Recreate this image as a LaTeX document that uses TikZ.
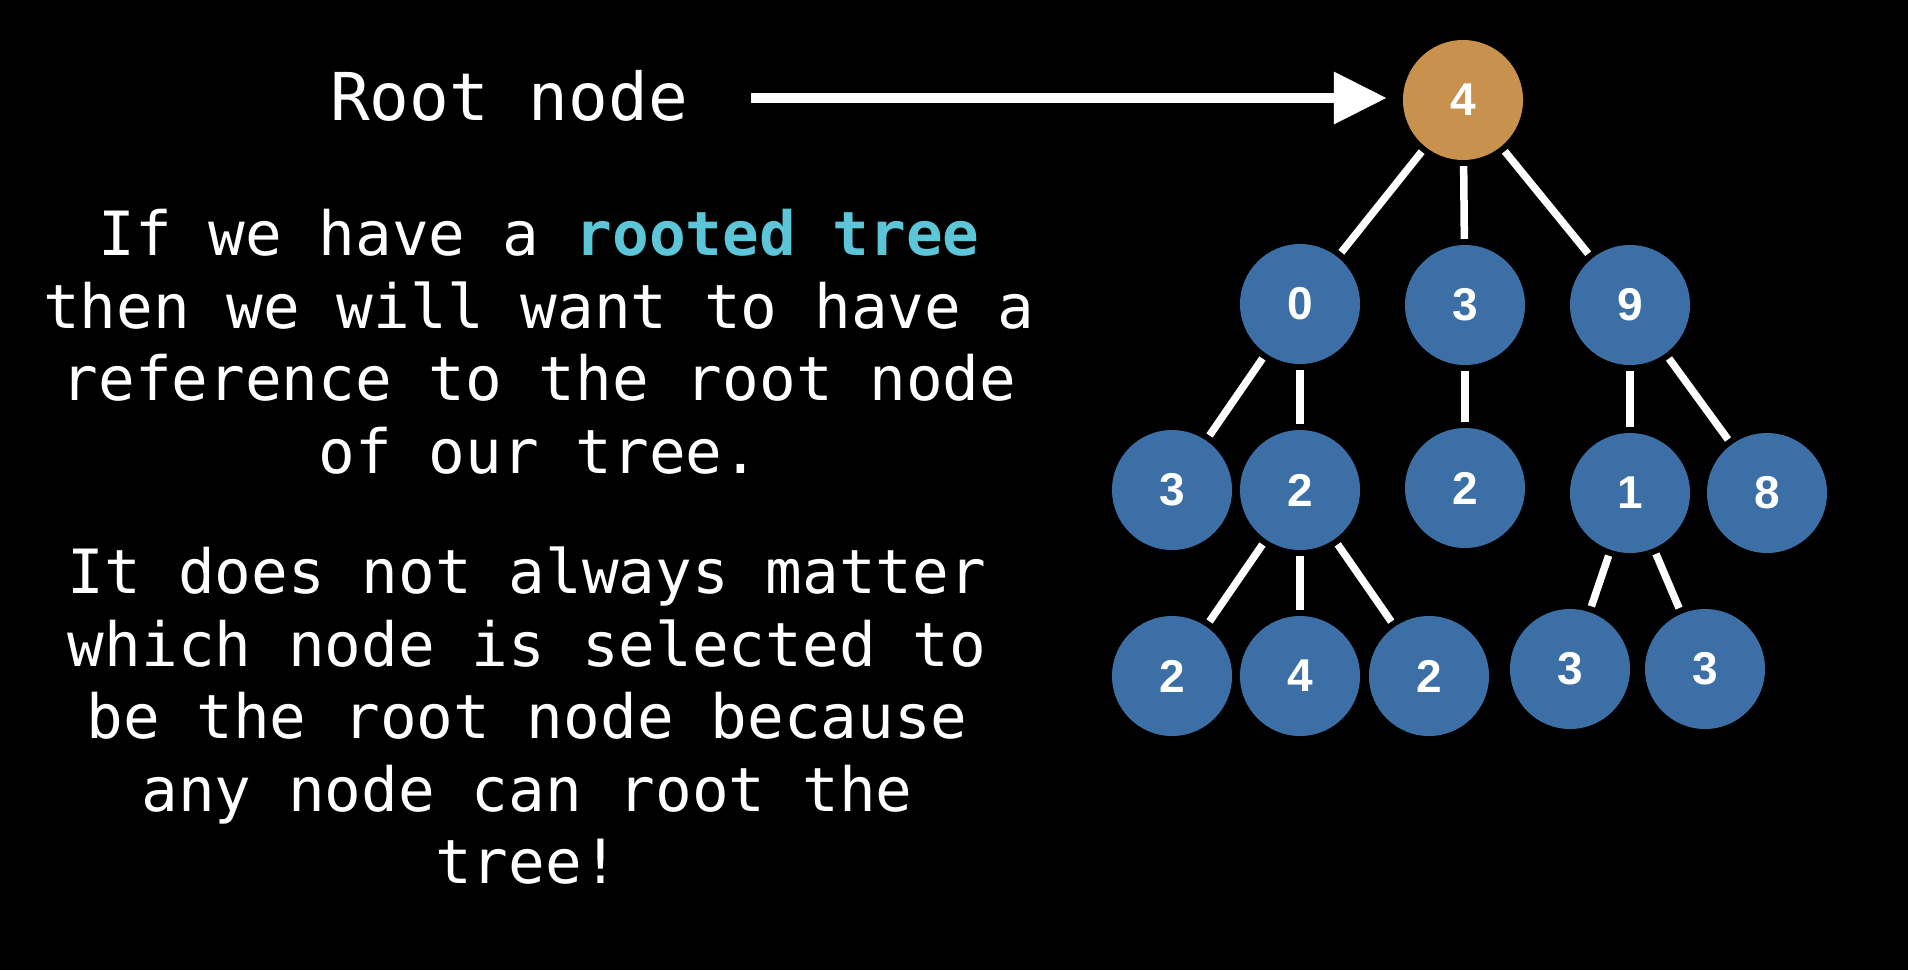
\documentclass[tikz,border=0pt]{standalone}
\usepackage{fontspec}
\setmonofont{DejaVu Sans Mono}
\newfontfamily\labelfont{Liberation Sans}
\usetikzlibrary{arrows.meta}
\definecolor{nodeblue}{HTML}{3B6FA6}
\definecolor{rootorange}{HTML}{C8914E}
\definecolor{cyanhl}{HTML}{5CC6D8}
\begin{document}
\begin{tikzpicture}[x=1pt,y=-1pt,
  treenode/.style={circle, fill=nodeblue, minimum size=120pt, inner sep=0pt, text=white,
    font=\labelfont\bfseries\fontsize{46}{46}\selectfont},
  rootnode/.style={treenode, fill=rootorange},
  edge/.style={draw=white, line width=7.5pt, shorten >=6pt, shorten <=6pt},
  body/.style={text=white, align=center, inner sep=0pt, font=\ttfamily\fontsize{61}{72.5}\selectfont},
]
\fill[black] (0,0) rectangle (1908,970);
\useasboundingbox (0,0) rectangle (1908,970);

% tree nodes
\node[rootnode] (root) at (1463,100) {4};
\node[treenode] (n0) at (1300,304) {0};
\node[treenode] (n3) at (1465,305) {3};
\node[treenode] (n9) at (1630,305) {9};
\node[treenode] (a3) at (1172,490) {3};
\node[treenode] (a2) at (1300,490) {2};
\node[treenode] (b2) at (1465,488) {2};
\node[treenode] (c1) at (1630,493) {1};
\node[treenode] (c8) at (1767,493) {8};
\node[treenode] (d2) at (1172,676) {2};
\node[treenode] (d4) at (1300,676) {4};
\node[treenode] (e2) at (1429,676) {2};
\node[treenode] (f3) at (1570,669) {3};
\node[treenode] (g3) at (1705,669) {3};

% edges
\draw[edge] (root) -- (n0);
\draw[edge] (root) -- (n3);
\draw[edge] (root) -- (n9);
\draw[edge] (n0) -- (a3);
\draw[edge] (n0) -- (a2);
\draw[edge] (n3) -- (b2);
\draw[edge] (n9) -- (c1);
\draw[edge] (n9) -- (c8);
\draw[edge] (a2) -- (d2);
\draw[edge] (a2) -- (d4);
\draw[edge] (a2) -- (e2);
\draw[edge] (c1) -- (f3);
\draw[edge] (c1) -- (g3);

% label and arrow
\node[text=white, inner sep=0pt, anchor=base, font=\ttfamily\fontsize{66}{66}\selectfont] (rootlabel) at (509,120) {Root node};
\coordinate (arrowstart) at (751,98);
\draw[white, line width=10pt, -{Triangle[length=53pt,width=50pt]}, shorten >=16pt] (arrowstart) -- (arrowstart -| root.west);

% paragraphs
\node[body, anchor=north] (para1) at (539,209) {If we have a {\bfseries\color{cyanhl}rooted tree}\\then we will want to have a\\reference to the root node\\of our tree.};
\node[body, anchor=north] (para2) at (527,547) {It does not always matter\\which node is selected to\\be the root node because\\any node can root the\\tree!};
\end{tikzpicture}
\end{document}
